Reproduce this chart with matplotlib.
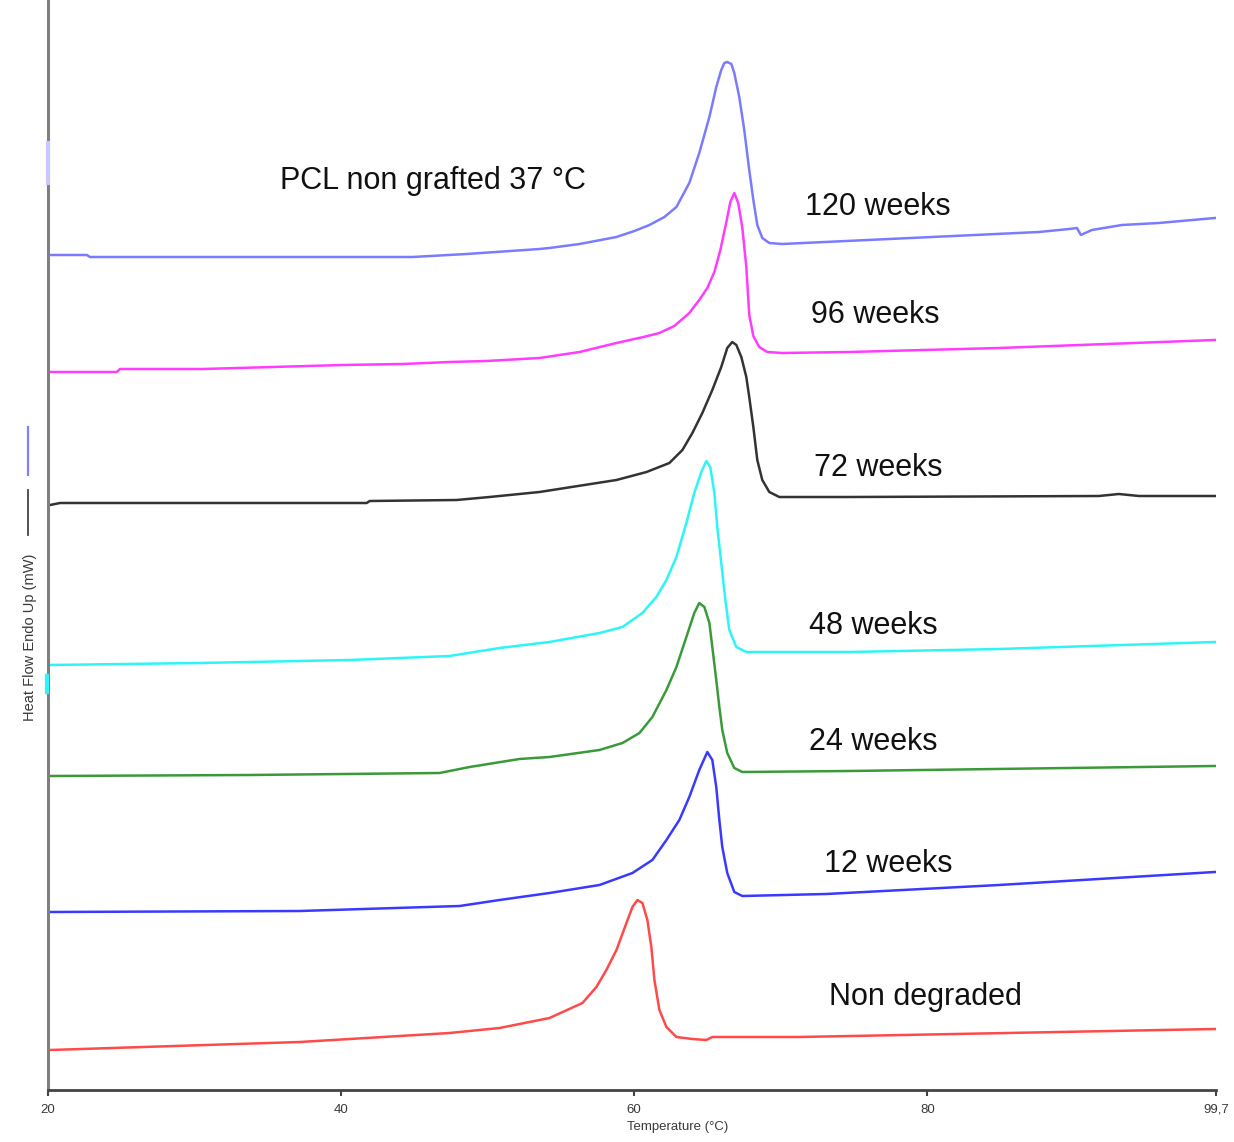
import matplotlib.pyplot as plt
from matplotlib.lines import Line2D

plt.rcParams['font.family'] = ['Liberation Sans', 'DejaVu Sans']

# DSC curves: temperature (C) and heat flow (arbitrary, stacked)
t_120 = [20.14, 22.66, 22.86, 44.88, 48.56, 53.54, 54.22, 56.27, 58.79, 60.01, 61.04, 62.06,
         62.88, 63.76, 64.44, 65.13, 65.60, 65.94, 66.15, 66.35, 66.63, 66.83, 67.17, 67.51,
         67.85, 68.13, 68.40, 68.74, 69.22, 70.10, 87.62, 89.67, 90.21, 90.48, 91.23, 93.28,
         95.80, 99.62]
hf_120 = [835, 835, 833, 833, 836, 841, 842, 846, 853, 859, 865, 873,
          883, 907, 937, 973, 1003, 1020, 1027, 1028, 1026, 1017, 993, 960,
          920, 890, 865, 852, 847, 846, 858, 861, 862, 855, 860, 865,
          867, 872]

t_96 = [20.14, 24.70, 24.91, 30.57, 35.34, 40.11, 44.20, 47.40, 49.93, 53.54, 56.27, 58.79,
        60.63, 61.72, 62.74, 63.76, 64.44, 64.99, 65.47, 65.88, 66.29, 66.56, 66.83, 67.10,
        67.38, 67.65, 67.85, 68.13, 68.53, 69.08, 70.10, 74.67, 84.89, 99.62]
hf_96 = [718, 718, 721, 721, 723, 725, 726, 728, 729, 732, 738, 747,
         753, 757, 764, 777, 790, 802, 818, 840, 868, 888, 897, 887,
         862, 823, 775, 754, 743, 738, 737, 738, 742, 750]

t_72 = [20.14, 20.82, 41.75, 41.95, 47.88, 50.13, 53.54, 58.79, 60.84, 62.40, 63.29, 63.97,
        64.65, 65.33, 65.94, 66.35, 66.69, 66.97, 67.31, 67.65, 67.85, 68.13, 68.40, 68.74,
        69.22, 69.90, 74.67, 91.71, 93.07, 94.44, 99.62]
hf_72 = [585, 587, 587, 589, 590, 593, 598, 610, 618, 627, 640, 657,
         677, 700, 723, 742, 748, 745, 733, 713, 693, 663, 630, 610,
         598, 593, 593, 594, 596, 594, 594]

t_48 = [20.14, 30.36, 40.59, 47.40, 50.81, 54.22, 57.63, 59.20, 60.56, 61.51, 62.20, 62.88,
        63.56, 64.10, 64.58, 64.92, 65.19, 65.47, 65.67, 65.94, 66.22, 66.49, 66.97, 67.65,
        74.67, 84.89, 99.62]
hf_48 = [425, 427, 430, 434, 442, 448, 457, 463, 477, 493, 510, 533,
         567, 597, 618, 629, 623, 597, 563, 527, 490, 460, 443, 438,
         438, 441, 448]

t_24 = [20.14, 33.77, 46.72, 48.77, 52.17, 54.22, 57.63, 59.20, 60.36, 61.24, 62.20, 62.88,
        63.56, 64.10, 64.44, 64.79, 65.13, 65.33, 65.60, 65.81, 66.01, 66.35, 66.83, 67.38,
        74.67, 99.62]
hf_24 = [314, 315, 317, 323, 331, 333, 340, 347, 357, 373, 400, 423,
         453, 477, 487, 483, 467, 443, 410, 383, 360, 337, 322, 318,
         319, 324]

t_12 = [20.14, 37.18, 48.09, 50.81, 54.22, 57.63, 59.88, 61.24, 62.20, 63.08, 63.76, 64.44,
        64.99, 65.33, 65.60, 65.81, 66.01, 66.35, 66.83, 67.38, 73.10, 84.89, 99.62]
hf_12 = [178, 179, 184, 190, 197, 205, 217, 230, 250, 270, 293, 320,
         338, 330, 303, 270, 243, 217, 198, 194, 196, 205, 218]

t_0 = [20.14, 37.18, 47.40, 50.81, 54.22, 56.47, 57.42, 58.10, 58.79, 59.47, 59.88, 60.22,
       60.56, 60.90, 61.17, 61.38, 61.72, 62.20, 62.88, 63.97, 64.92, 65.33, 71.26, 99.62]
hf_0 = [40, 48, 57, 62, 72, 87, 103, 120, 140, 167, 183, 190,
        187, 170, 143, 110, 80, 63, 53, 51, 50, 53, 53, 61]

series = [
    (t_120, hf_120, '#7b7bff', '120 weeks', 71.67, 883),
    (t_96, hf_96, '#ff3cff', '96 weeks', 72.08, 775),
    (t_72, hf_72, '#333333', '72 weeks', 72.28, 622),
    (t_48, hf_48, '#2ef5f5', '48 weeks', 71.94, 464),
    (t_24, hf_24, '#3a9a3a', '24 weeks', 71.94, 348),
    (t_12, hf_12, '#3a3aff', '12 weeks', 72.97, 226),
    (t_0, hf_0, '#ff4a4a', 'Non degraded', 73.31, 93),
]

fig = plt.figure(figsize=(12.34, 11.42), dpi=100)
ax = fig.add_axes([48 / 1234, 52 / 1142, 1168 / 1234, 1090 / 1142])

for t, hf, col, lab, tx, ty in series:
    ax.plot(t, hf, color=col, lw=1.8, solid_joinstyle='round')
    ax.text(tx, ty, lab, fontsize=22, ha='left', va='center', color='#111111')

ax.text(35.81, 909, 'PCL non grafted 37 \u00b0C', fontsize=22, ha='left', va='center', color='#111111')

ax.set_xlim(20, 99.7)
ax.set_ylim(0, 1090)
ax.set_xticks([20, 40, 60, 80, 99.7])
ax.set_xticklabels(['20', '40', '60', '80', '99,7'])
ax.set_yticks([])
ax.tick_params(axis='x', length=4, width=1.5, color='#444444', labelsize=9.5,
               labelcolor='#3a3a3a', pad=6)
for s in ['top', 'right']:
    ax.spines[s].set_visible(False)
ax.spines['left'].set_color('#808080')
ax.spines['left'].set_linewidth(2.2)
ax.spines['bottom'].set_color('#444444')
ax.spines['bottom'].set_linewidth(2.0)

ax.set_xlabel('Temperature (\u00b0C)', fontsize=9.5, color='#3a3a3a')
ax.xaxis.set_label_coords(0.539, -0.028)
ax.set_ylabel('Heat Flow Endo Up (mW)', fontsize=10.5, color='#3a3a3a')
ax.yaxis.set_label_coords(-0.0095, 0.415)

# small coloured marks on the left spine and beside the y label
ax.add_line(Line2D([0, 0], [0.832, 0.869], transform=ax.transAxes, color='#c8c8ff',
                   lw=3, clip_on=False, zorder=5))
ax.add_line(Line2D([-0.001, -0.001], [0.365, 0.380], transform=ax.transAxes, color='#2ef5f5',
                   lw=3, clip_on=False, zorder=5))
fig.add_artist(Line2D([28 / 1234, 28 / 1234], [1 - 427 / 1142, 1 - 475 / 1142],
                      color='#8080ff', lw=1.6))
fig.add_artist(Line2D([28 / 1234, 28 / 1234], [1 - 490 / 1142, 1 - 535 / 1142],
                      color='#444444', lw=1.3))

fig.savefig('out.png', dpi=100)
